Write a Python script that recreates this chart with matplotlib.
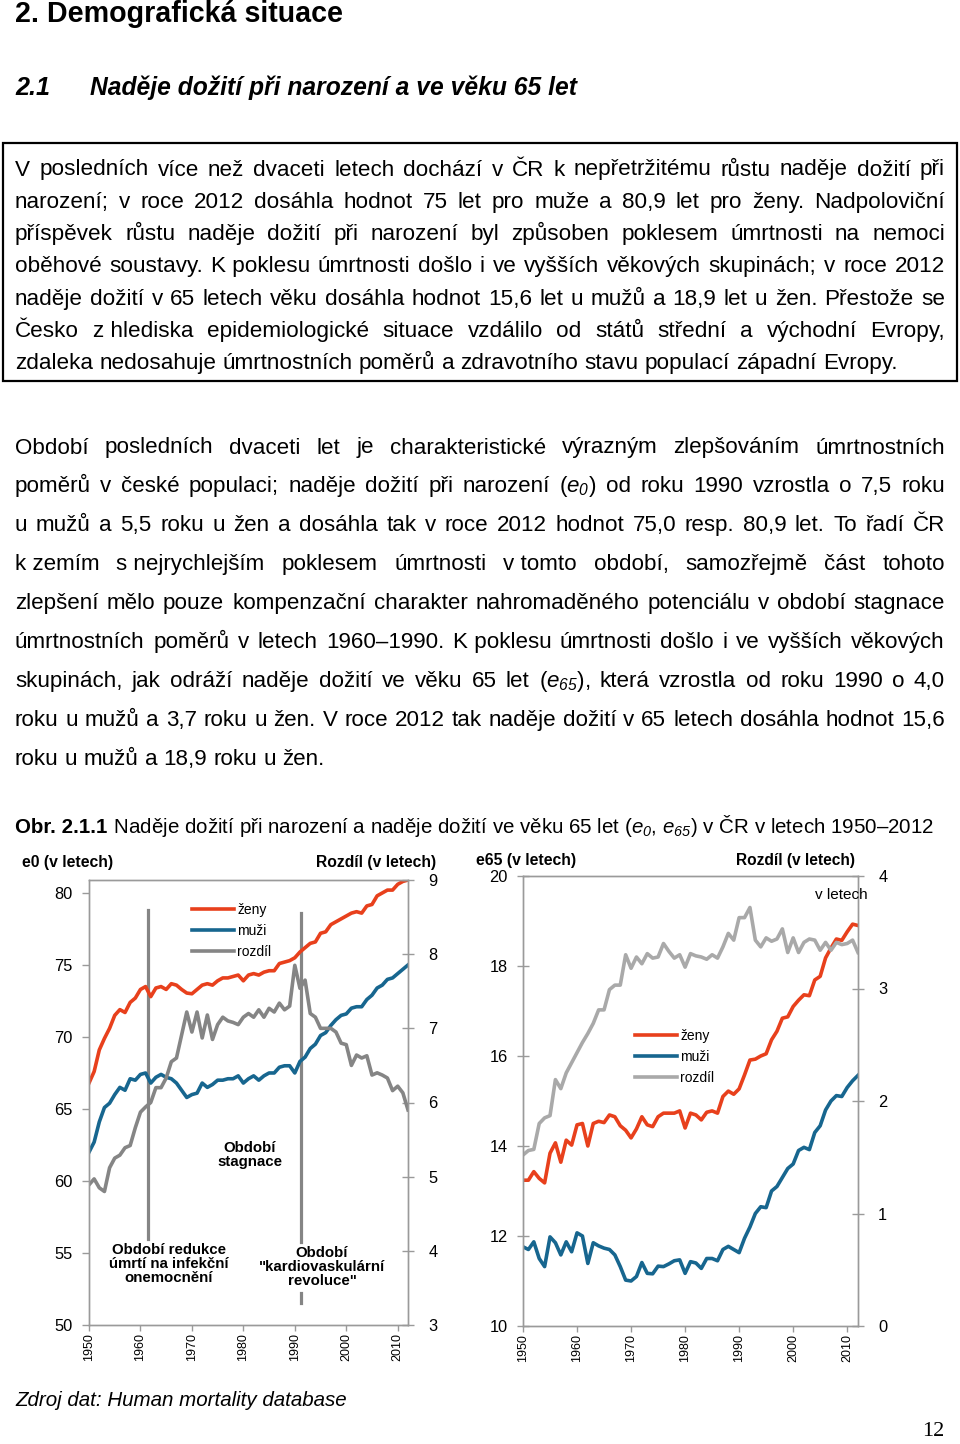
import numpy as np
import matplotlib
matplotlib.use("Agg")
import matplotlib.pyplot as plt
from matplotlib.patches import Rectangle

plt.rcParams['font.family'] = ['Liberation Sans', 'DejaVu Sans']
plt.rcParams['mathtext.fontset'] = 'custom'
plt.rcParams['mathtext.rm'] = 'Liberation Sans:italic'
plt.rcParams['mathtext.it'] = 'Liberation Sans:italic'
plt.rcParams['mathtext.bf'] = 'Liberation Sans:bold'

# ---- data ----
years = np.arange(1950, 2013)

e0_zeny = [66.8, 67.6, 69.1, 69.9, 70.6, 71.5, 71.9, 71.7, 72.4, 72.7,
           73.3, 73.5, 72.8, 73.4, 73.5, 73.3, 73.7, 73.6, 73.3, 73.05,
           73.0, 73.3, 73.6, 73.7, 73.6, 73.9, 74.1, 74.1, 74.2, 74.3,
           73.9, 74.3, 74.4, 74.3, 74.5, 74.6, 74.6, 75.1, 75.2, 75.3,
           75.5, 75.9, 76.2, 76.5, 76.6, 77.2, 77.3, 77.8, 78.0, 78.2,
           78.4, 78.6, 78.7, 78.6, 79.1, 79.2, 79.8, 80.0, 80.2, 80.2,
           80.6, 80.8, 80.9]
e0_muzi = [62.0, 62.7, 64.1, 65.1, 65.4, 66.0, 66.5, 66.3, 67.1, 67.0,
           67.4, 67.5, 66.8, 67.2, 67.4, 67.2, 67.1, 66.8, 66.3, 65.8,
           66.0, 66.1, 66.8, 66.5, 66.7, 67.0, 67.0, 67.1, 67.1, 67.3,
           66.8, 67.1, 67.3, 67.0, 67.3, 67.5, 67.5, 67.9, 68.0, 68.0,
           67.5, 68.3, 68.6, 69.2, 69.5, 70.1, 70.3, 70.8, 71.2, 71.5,
           71.6, 72.0, 72.1, 72.1, 72.6, 72.9, 73.4, 73.6, 74.0, 74.1,
           74.4, 74.7, 75.0]
e0_rozdil = [4.89, 4.97, 4.85, 4.80, 5.12, 5.25, 5.29, 5.39, 5.42, 5.66,
             5.87, 5.94, 6.00, 6.20, 6.20, 6.33, 6.55, 6.60, 6.91, 7.22,
             6.95, 7.22, 6.87, 7.18, 6.85, 7.05, 7.15, 7.10, 7.08, 7.05,
             7.15, 7.20, 7.15, 7.25, 7.15, 7.27, 7.22, 7.34, 7.25, 7.30,
             7.85, 7.54, 7.65, 7.20, 7.15, 7.00, 7.00, 7.00, 6.95, 6.80,
             6.78, 6.50, 6.64, 6.60, 6.63, 6.37, 6.40, 6.37, 6.33, 6.16,
             6.22, 6.13, 5.90]

e65_zeny = [13.24, 13.24, 13.43, 13.28, 13.18, 13.84, 14.07, 13.64, 14.13, 14.02,
            14.47, 14.50, 14.00, 14.50, 14.55, 14.52, 14.69, 14.65, 14.45, 14.35,
            14.18, 14.38, 14.65, 14.47, 14.43, 14.65, 14.73, 14.73, 14.73, 14.78,
            14.40, 14.73, 14.69, 14.58, 14.75, 14.78, 14.73, 15.10, 15.22, 15.15,
            15.27, 15.58, 15.91, 15.93, 16.00, 16.05, 16.36, 16.55, 16.84, 16.87,
            17.10, 17.24, 17.36, 17.34, 17.69, 17.77, 18.18, 18.40, 18.60, 18.57,
            18.76, 18.93, 18.90]
e65_muzi = [11.76, 11.70, 11.87, 11.50, 11.32, 11.98, 11.85, 11.58, 11.87, 11.65,
            12.07, 12.00, 11.39, 11.85, 11.78, 11.73, 11.70, 11.58, 11.32, 11.02,
            11.00, 11.10, 11.41, 11.17, 11.16, 11.33, 11.32, 11.38, 11.45, 11.47,
            11.17, 11.43, 11.40, 11.28, 11.50, 11.50, 11.45, 11.70, 11.77, 11.70,
            11.63, 11.95, 12.20, 12.50, 12.65, 12.63, 13.00, 13.10, 13.30, 13.50,
            13.60, 13.90, 13.97, 13.92, 14.30, 14.45, 14.80, 15.00, 15.12, 15.10,
            15.30, 15.45, 15.57]
e65_rozdil = [1.52, 1.56, 1.57, 1.80, 1.85, 1.87, 2.19, 2.11, 2.25, 2.34,
              2.43, 2.52, 2.60, 2.69, 2.81, 2.81, 2.99, 3.03, 3.03, 3.30,
              3.18, 3.28, 3.22, 3.31, 3.27, 3.28, 3.40, 3.33, 3.27, 3.30,
              3.19, 3.31, 3.29, 3.28, 3.26, 3.30, 3.27, 3.37, 3.49, 3.43,
              3.63, 3.63, 3.72, 3.43, 3.37, 3.45, 3.42, 3.44, 3.53, 3.32,
              3.45, 3.32, 3.41, 3.44, 3.43, 3.34, 3.41, 3.34, 3.41, 3.39,
              3.40, 3.43, 3.32]

legend_labels = ['ženy', 'muži', 'rozdíl']
period_years = [1961.5, 1991.2]
xtick_years = [1950, 1960, 1970, 1980, 1990, 2000, 2010]

para1 = [
    "V posledních více než dvaceti letech dochází v ČR k nepřetržitému růstu naděje dožití při",
    "narození; v roce 2012 dosáhla hodnot 75 let pro muže a 80,9 let pro ženy. Nadpoloviční",
    "příspěvek růstu naděje dožití při narození byl způsoben poklesem úmrtnosti na nemoci",
    "oběhové soustavy. K\u00a0poklesu úmrtnosti došlo i ve vyšších věkových skupinách; v roce 2012",
    "naděje dožití v 65 letech věku dosáhla hodnot 15,6 let u mužů a 18,9 let u žen. Přestože se",
    "Česko z\u00a0hlediska epidemiologické situace vzdálilo od států střední a východní Evropy,",
    "zdaleka nedosahuje úmrtnostních poměrů a zdravotního stavu populací západní Evropy.",
]
para2 = [
    "Období posledních dvaceti let je charakteristické výrazným zlepšováním úmrtnostních",
    r"poměrů v české populaci; naděje dožití při narození ($e_{0}$) od roku 1990 vzrostla o 7,5 roku",
    "u mužů a 5,5 roku u žen a dosáhla tak v roce 2012 hodnot 75,0 resp. 80,9 let. To řadí ČR",
    "k\u00a0zemím s\u00a0nejrychlejším poklesem úmrtnosti v\u00a0tomto období, samozřejmě část tohoto",
    "zlepšení mělo pouze kompenzační charakter nahromaděného potenciálu v období stagnace",
    "úmrtnostních poměrů v letech 1960–1990. K\u00a0poklesu úmrtnosti došlo i ve vyšších věkových",
    r"skupinách, jak odráží naděje dožití ve věku 65 let ($e_{65}$), která vzrostla od roku 1990 o 4,0",
    "roku u mužů a 3,7 roku u žen. V roce 2012 tak naděje dožití v 65 letech dosáhla hodnot 15,6",
    "roku u mužů a 18,9 roku u žen.",
]

RED = '#e8401c'
BLUE = '#17668f'
GRAY_D = '#858585'
GRAY_L = '#a9a9a9'
SPINE = '#9a9a9a'

W, H = 960, 1444
fig = plt.figure(figsize=(W / 100, H / 100), dpi=100)
rend = fig.canvas.get_renderer()


def fy(y):
    return 1 - y / H


def fit_text(x, y, s, width, size0=14, **kw):
    t = fig.text(x / W, fy(y), s, fontsize=size0, **kw)
    w = t.get_window_extent(rend).width
    t.set_fontsize(size0 * width / w)
    return t


def put_line(line, base, size, x0=15, x1=945, last=False):
    words = line.split(' ')
    ts = [fig.text(0, fy(base), w, fontsize=size, va='baseline') for w in words]
    ws = [t.get_window_extent(rend).width for t in ts]
    if last or len(ws) == 1:
        gap = size * 100 / 72 * 0.278
    else:
        gap = (x1 - x0 - sum(ws)) / (len(ws) - 1)
    x = x0
    for t, w in zip(ts, ws):
        t.set_x(x / W)
        x += w + gap


def calib(line, width, size0=15):
    t = fig.text(0, 0, line, fontsize=size0)
    w = t.get_window_extent(rend).width
    t.remove()
    return size0 * width / w


# ---- page text ----
fit_text(15, 14, "2. Demografická situace", 328, 20, fontweight='bold', va='center')
fit_text(15, 88, "2.1", 35, 18, fontweight='bold', style='italic', va='center')
fit_text(90, 88, "Naděje dožití při narození a ve věku 65 let", 485, 18,
         fontweight='bold', style='italic', va='center')

fig.add_artist(Rectangle((3 / W, fy(381)), 954 / W, 238 / H, transform=fig.transFigure,
                         fill=False, edgecolor='black', linewidth=1.6))

s1 = calib(para1[-1], 883)
for i, line in enumerate(para1):
    put_line(line, 175.5 + i * 32.3, s1, last=(i == len(para1) - 1))

s2 = calib(para2[-1], 310)
for i, line in enumerate(para2):
    put_line(line, 453.5 + i * 38.9, s2, last=(i == len(para2) - 1))

# caption
cap_b = "Obr. 2.1.1"
cap_r = r" Naděje dožití při narození a naděje dožití ve věku 65 let ($e_{0}$, $e_{65}$) v ČR v letech 1950–2012"
tb = fig.text(15 / W, fy(833), cap_b, fontsize=14, fontweight='bold', va='baseline')
tr = fig.text(0, fy(833), cap_r, fontsize=14, va='baseline')
wb = tb.get_window_extent(rend).width
wr = tr.get_window_extent(rend).width
cs = 14 * 920 / (wb + wr)
tb.set_fontsize(cs)
tr.set_fontsize(cs)
tr.set_x((15 + wb * cs / 14) / W)

fit_text(15, 1401, "Zdroj dat: Human mortality database", 332, 14, style='italic', va='center')
fig.text(944 / W, fy(1432), "12", fontsize=16, family='Liberation Serif', ha='right', va='center')


# ---- charts ----
def rect(x0, y0, x1, y1):
    return [x0 / W, 1 - y1 / H, (x1 - x0) / W, (y1 - y0) / H]


def style(ax, axr, left_dir):
    for a in (ax, axr):
        for s in a.spines.values():
            s.set_color(SPINE)
            s.set_linewidth(1.0)
    ax.tick_params(axis='y', direction=left_dir, length=8 if left_dir == 'inout' else 5,
                   width=1, color=SPINE, labelsize=11.8, pad=7)
    axr.tick_params(axis='y', direction='inout', length=9, width=1, color=SPINE,
                    labelsize=11.8, pad=10)
    ax.tick_params(axis='x', direction='out', length=4, width=1, color=SPINE,
                   labelsize=9, labelrotation=90, pad=2)
    ax.set_xlim(1950, 2012)
    ax.set_xticks(xtick_years)


leg_kw = dict(loc='upper left', bbox_transform=fig.transFigure, frameon=False,
              fontsize=10, handlelength=3.0, handletextpad=0.25,
              labelspacing=0.5, borderpad=0, borderaxespad=0)

# left chart
ax1 = fig.add_axes(rect(89, 880, 408, 1325))
ax1r = ax1.twinx()
ax1.axvline(period_years[0], ymin=0.193, ymax=0.933, color=GRAY_D, lw=2.3)
ax1.axvline(period_years[1], ymin=0.187, ymax=0.926, color=GRAY_D, lw=2.3)
ax1.axvline(period_years[1], ymin=0.05, ymax=0.072, color=GRAY_D, lw=2.3)
l1, = ax1.plot(years, e0_zeny, color=RED, lw=2.6)
l2, = ax1.plot(years, e0_muzi, color=BLUE, lw=2.6)
l3, = ax1r.plot(years, e0_rozdil, color=GRAY_D, lw=2.6)
ax1.set_ylim(50, 80.9)
ax1.set_yticks([50, 55, 60, 65, 70, 75, 80])
ax1r.set_ylim(3, 9)
ax1r.set_yticks([3, 4, 5, 6, 7, 8, 9])
style(ax1, ax1r, 'out')
ax1r.legend([l1, l2, l3], legend_labels, bbox_to_anchor=(192 / W, fy(903)), **leg_kw)

fit_text(22, 862, "e0 (v letech)", 91, 10, fontweight='bold', va='center')
fit_text(316, 863, "Rozdíl (v letech)", 120, 10, fontweight='bold', va='center')
kw = dict(fontsize=10.8, fontweight='bold', ha='center', va='center', linespacing=0.98)
fig.text(250 / W, fy(1155), "Období\nstagnace", **kw)
fig.text(169 / W, fy(1264), "Období redukce\númrtí na infekční\nonemocnění", **kw)
fig.text(322 / W, fy(1267), "Období\n\"kardiovaskulární\nrevoluce\"", **kw)

# right chart
ax2 = fig.add_axes(rect(523, 876, 858, 1326))
ax2r = ax2.twinx()
m1, = ax2.plot(years, e65_zeny, color=RED, lw=2.6)
m2, = ax2.plot(years, e65_muzi, color=BLUE, lw=2.6)
m3, = ax2r.plot(years, e65_rozdil, color=GRAY_L, lw=2.6)
ax2.set_ylim(10, 20)
ax2.set_yticks([10, 12, 14, 16, 18, 20])
ax2r.set_ylim(0, 4)
ax2r.set_yticks([0, 1, 2, 3, 4])
style(ax2, ax2r, 'inout')
ax2r.legend([m1, m2, m3], legend_labels, bbox_to_anchor=(635 / W, fy(1029)), **leg_kw)

fit_text(476, 861, "e65 (v letech)", 100, 10, fontweight='bold', va='center')
fit_text(736, 861, "Rozdíl (v letech)", 119, 10, fontweight='bold', va='center')
fig.text(815 / W, fy(895), "v letech", fontsize=11, va='center')

fig.savefig("out.png", dpi=100)
